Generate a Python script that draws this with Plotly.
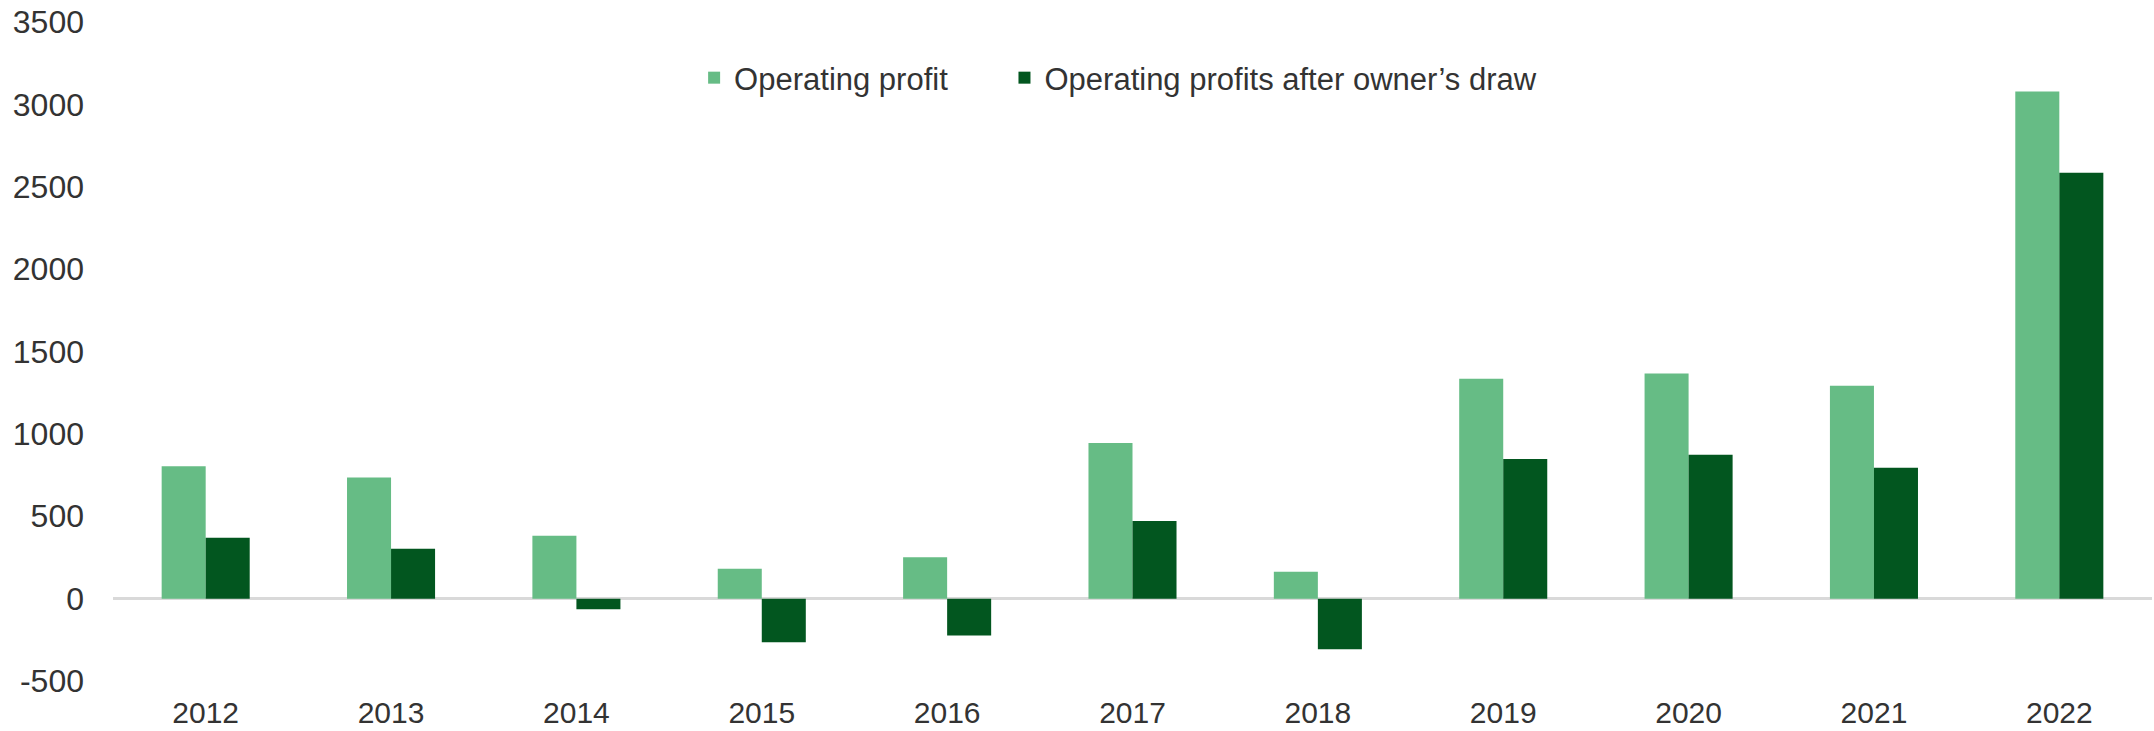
import plotly.graph_objects as go

years = ["2012", "2013", "2014", "2015", "2016", "2017", "2018", "2019", "2020", "2021", "2022"]
operating_profit = [804, 735, 382, 181, 251, 945, 163, 1335, 1367, 1292, 3078]
after_owners_draw = [369, 302, -65, -265, -224, 471, -308, 847, 873, 794, 2585]
y_ticks = [-500, 0, 500, 1000, 1500, 2000, 2500, 3000, 3500]
series_names = ["Operating profit", "Operating profits after owner\u2019s draw"]

LIGHT = "#66BC85"
DARK = "#02561F"
TEXT = "#333333"
FONT = "Liberation Sans, Arial, sans-serif"

fig = go.Figure()
fig.add_trace(go.Bar(x=years, y=operating_profit, name=series_names[0] + "\u00a0" * 6,
                     marker=dict(color=LIGHT, line=dict(width=0))))
fig.add_trace(go.Bar(x=years, y=after_owners_draw, name=series_names[1],
                     marker=dict(color=DARK, line=dict(width=0))))

fig.update_layout(
    width=2154, height=731,
    margin=dict(l=113, r=2, t=22, b=50),
    paper_bgcolor="white", plot_bgcolor="white",
    barmode="group", bargap=0.525, bargroupgap=0,
    font=dict(family=FONT, color=TEXT, size=30),
    showlegend=True,
    legend=dict(orientation="h", x=0.285, y=0.915, xanchor="left", yanchor="middle",
                font=dict(size=31, color=TEXT), bgcolor="rgba(0,0,0,0)",
                itemwidth=30, tracegroupgap=0),
    xaxis=dict(type="category", showgrid=False, showline=False, ticks="",
               tickfont=dict(size=30, color=TEXT), ticklabelstandoff=11,
               automargin=False, zeroline=False),
    yaxis=dict(range=[-500, 3500], tickvals=y_ticks, ticktext=[str(v) for v in y_ticks],
               showgrid=False, showline=False,
               zeroline=True, zerolinecolor="#D9D9D9", zerolinewidth=3,
               tickfont=dict(size=32, color=TEXT), ticks="", ticklabelstandoff=28,
               automargin=False),
)

fig.write_html("out.html", config={"displayModeBar": False},
               post_script="document.body.style.margin='0';document.body.style.overflow='hidden';")
